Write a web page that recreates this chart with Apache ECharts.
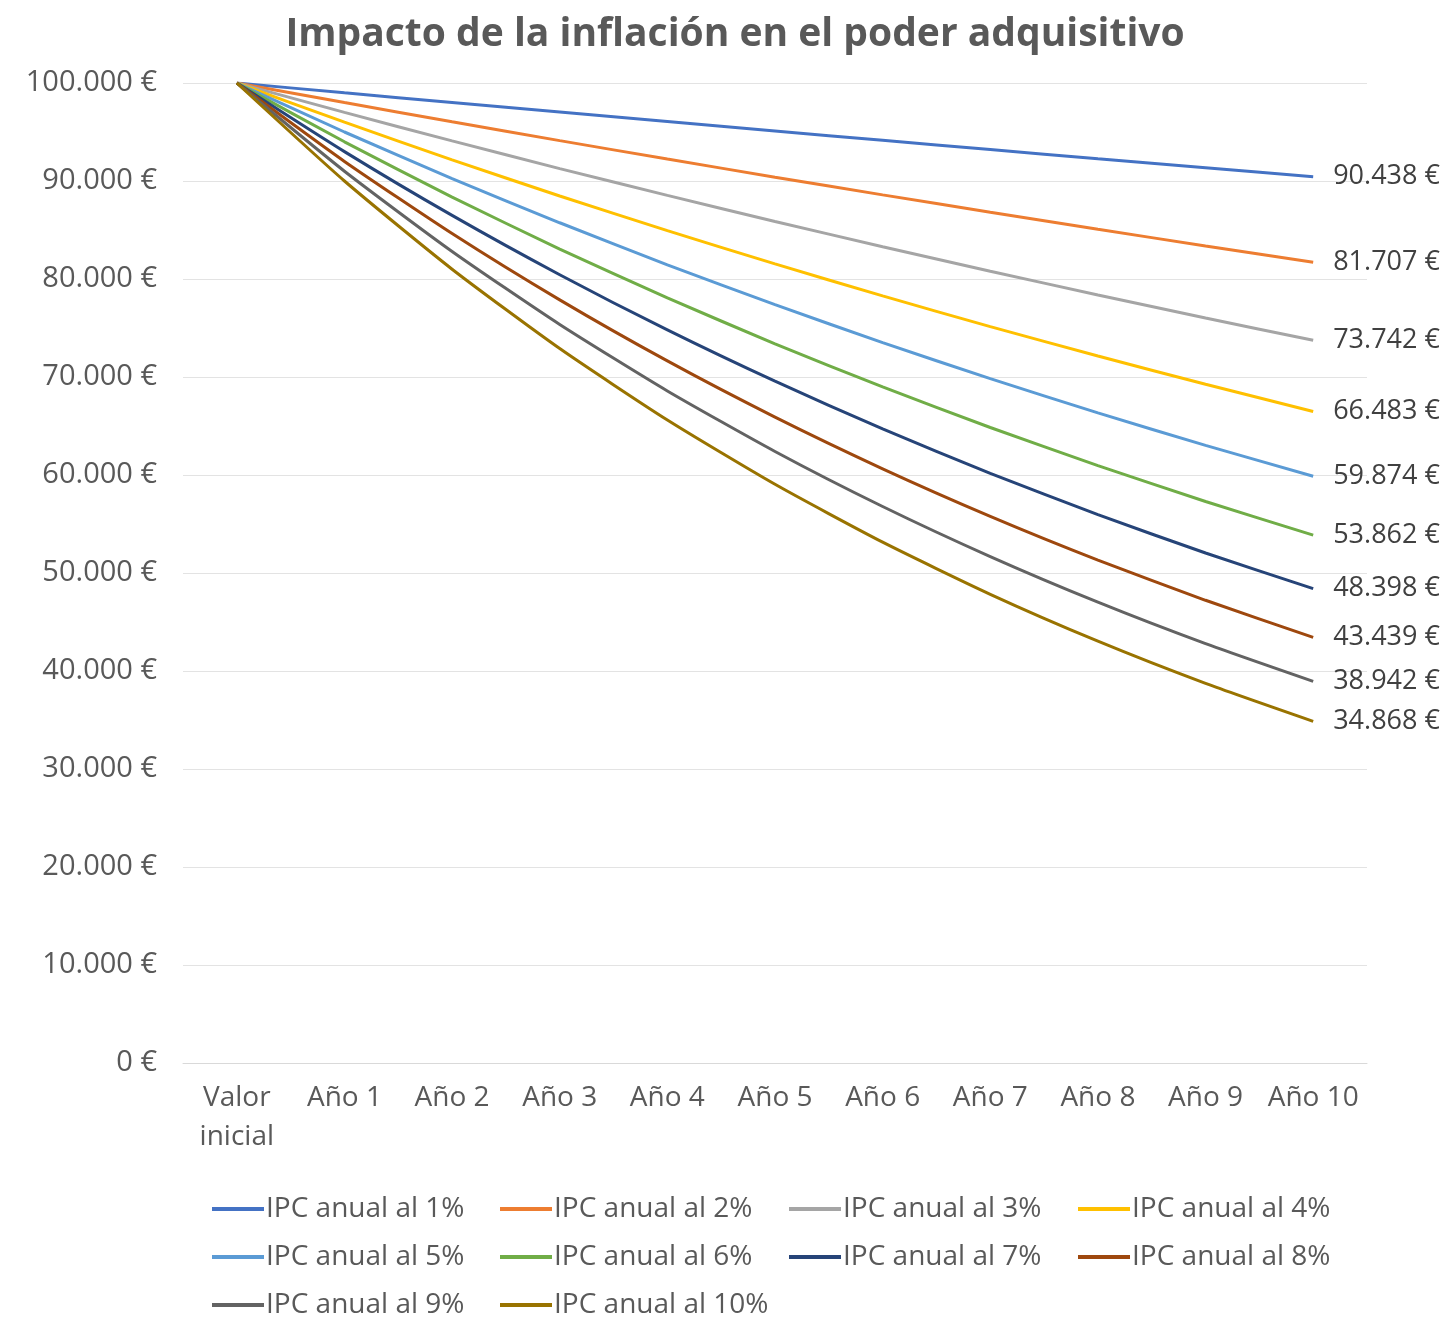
<!DOCTYPE html>
<html>
<head>
<meta charset="utf-8">
<script src="https://cdn.jsdelivr.net/npm/echarts@6/dist/echarts.min.js"></script>
<style>
html,body{margin:0;padding:0;background:#fff;}
#chart{width:1445px;height:1318px;}
</style>
</head>
<body>
<div id="chart"></div>
<script>
const categories = ['Valor\ninicial','Año 1','Año 2','Año 3','Año 4','Año 5','Año 6','Año 7','Año 8','Año 9','Año 10'];
const seriesNames = ['IPC anual al 1%','IPC anual al 2%','IPC anual al 3%','IPC anual al 4%','IPC anual al 5%','IPC anual al 6%','IPC anual al 7%','IPC anual al 8%','IPC anual al 9%','IPC anual al 10%'];
const ipc1  = [100000, 99000, 98010, 97030, 96060, 95099, 94148, 93207, 92274, 91352, 90438];
const ipc2  = [100000, 98000, 96040, 94119, 92237, 90392, 88584, 86813, 85076, 83375, 81707];
const ipc3  = [100000, 97000, 94090, 91267, 88529, 85873, 83297, 80798, 78374, 76023, 73742];
const ipc4  = [100000, 96000, 92160, 88474, 84935, 81537, 78276, 75145, 72139, 69253, 66483];
const ipc5  = [100000, 95000, 90250, 85738, 81451, 77378, 73509, 69834, 66342, 63025, 59874];
const ipc6  = [100000, 94000, 88360, 83058, 78075, 73390, 68987, 64848, 60957, 57299, 53862];
const ipc7  = [100000, 93000, 86490, 80436, 74805, 69569, 64699, 60170, 55958, 52041, 48398];
const ipc8  = [100000, 92000, 84640, 77869, 71639, 65908, 60636, 55785, 51322, 47216, 43439];
const ipc9  = [100000, 91000, 82810, 75357, 68575, 62403, 56787, 51676, 47025, 42793, 38942];
const ipc10 = [100000, 90000, 81000, 72900, 65610, 59049, 53144, 47830, 43047, 38742, 34868];
const allSeries = [ipc1, ipc2, ipc3, ipc4, ipc5, ipc6, ipc7, ipc8, ipc9, ipc10];
const colors = ['#4472C4','#ED7D31','#A5A5A5','#FFC000','#5B9BD5','#70AD47','#264478','#9E480E','#636363','#997300'];

const FONT = "'Open Sans', 'Noto Sans', sans-serif";
function fmtEuro(v){
  const s = Math.round(v).toString().replace(/\B(?=(\d{3})+(?!\d))/g, '.');
  return s + ' €';
}

const legendCols = [212, 500, 789, 1078];
const legendRows = [1195, 1243, 1291];
const legends = seriesNames.map((n, i) => ({
  data: [n],
  left: legendCols[i % 4],
  top: legendRows[Math.floor(i / 4)],
  icon: 'rect',
  itemWidth: 52,
  itemHeight: 4,
  padding: 0,
  selectedMode: false,
  textStyle: { fontFamily: FONT, fontSize: 28, color: '#595959', padding: [0, 0, 0, -3] }
}));

const chart = echarts.init(document.getElementById('chart'), null, { renderer: 'canvas' });
chart.setOption({
  animation: false,
  backgroundColor: '#ffffff',
  color: colors,
  title: {
    text: 'Impacto de la inflación en el poder adquisitivo',
    left: 730, textAlign: 'center', top: 10,
    textStyle: { fontFamily: FONT, fontSize: 39, fontWeight: 'bold', color: '#595959' }
  },
  legend: legends,
  grid: { left: 183, right: 78, top: 83, bottom: 255, containLabel: false },
  xAxis: {
    type: 'category',
    data: categories,
    boundaryGap: true,
    axisLine: { show: true, lineStyle: { color: '#D9D9D9', width: 1 } },
    axisTick: { show: false },
    axisLabel: { fontFamily: FONT, fontSize: 28, color: '#595959', margin: 16, lineHeight: 39, interval: 0 }
  },
  yAxis: {
    type: 'value',
    min: 0, max: 100000, interval: 10000,
    axisLine: { show: false },
    axisTick: { show: false },
    splitLine: { lineStyle: { color: '#E3E3E3', width: 1 } },
    axisLabel: { fontFamily: FONT, fontSize: 29, color: '#595959', margin: 26, formatter: fmtEuro }
  },
  series: allSeries.map((d, i) => ({
    name: seriesNames[i],
    type: 'line',
    data: d,
    smooth: 0.2,
    symbol: 'none',
    lineStyle: { width: 3, color: colors[i] },
    itemStyle: { color: colors[i] },
    endLabel: {
      show: true,
      distance: 20,
      formatter: p => fmtEuro(p.value),
      fontFamily: FONT, fontSize: 27, color: '#404040'
    }
  }))
});
</script>
</body>
</html>
